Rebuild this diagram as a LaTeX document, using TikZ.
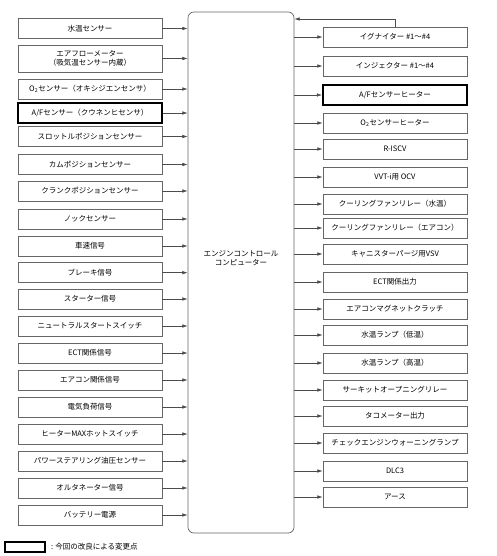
\documentclass[tikz,border=0pt]{standalone}
\usepackage{fontspec}
\setmainfont{Noto Sans CJK JP}
\usepackage{tikz}
\usetikzlibrary{arrows.meta}

\begin{document}
\begin{tikzpicture}[
  x=0.03cm, y=-0.03cm,
  font=\fontsize{6.4}{8}\selectfont,
  inbox/.style={draw=black!60, line width=0.6pt, fill=white, align=center, minimum width=4.32cm, minimum height=0.6cm, inner sep=1pt},
  newbox/.style={inbox, draw=black, line width=1.6pt},
  ecubox/.style={draw=black!60, line width=0.6pt, rounded corners=5pt, minimum width=3.18cm, minimum height=15.63cm},
  arr/.style={-{Latex[length=4.5pt,width=3pt]}, draw=black!70, line width=0.5pt},
]
\useasboundingbox (0,0) rectangle (496,556);

% --- ECU ---
\node[ecubox] (ecu) at (241,272.5) {};
\node[align=center] (ecutxt) at (241,258) {エンジンコントロール\\コンピューター};

% --- Inputs ---
\node[inbox] (in1)  at (90,28.5)  {水温センサー};
\node[inbox, minimum height=0.81cm] (in2) at (90,58.5) {エアフローメーター\\（吸気温センサー内蔵）};
\node[inbox] (in3)  at (90,89)    {O\textsubscript{2}センサー（オキシジエンセンサ）};
\node[newbox] (in4) at (90,113)   {A/Fセンサー（クウネンヒセンサ）};
\node[inbox] (in5)  at (90,136.5) {スロットルポジションセンサー};
\node[inbox] (in6)  at (90,164.5) {カムポジションセンサー};
\node[inbox] (in7)  at (90,191)   {クランクポジションセンサー};
\node[inbox] (in8)  at (90,219)   {ノックセンサー};
\node[inbox] (in9)  at (90,246)   {車速信号};
\node[inbox] (in10) at (90,272.7) {ブレーキ信号};
\node[inbox] (in11) at (90,299)   {スターター信号};
\node[inbox] (in12) at (90,326)   {ニュートラルスタートスイッチ};
\node[inbox] (in13) at (90,353)   {ECT関係信号};
\node[inbox] (in14) at (90,380)   {エアコン関係信号};
\node[inbox] (in15) at (90,407)   {電気負荷信号};
\node[inbox] (in16) at (90,434)   {ヒーターMAXホットスイッチ};
\node[inbox] (in17) at (90,461)   {パワーステアリング油圧センサー};
\node[inbox] (in18) at (90,488)   {オルタネーター信号};
\node[inbox] (in19) at (90,515)   {バッテリー電源};

% --- Outputs ---
\node[inbox] (out1)  at (395,37)  {イグナイター \#1～\#4};
\node[inbox] (out2)  at (395,66)  {インジェクター \#1～\#4};
\node[newbox] (out3) at (395,95)  {A/Fセンサーヒーター};
\node[inbox] (out4)  at (395,123) {O\textsubscript{2}センサーヒーター};
\node[inbox] (out5)  at (395,149) {R-ISCV};
\node[inbox] (out6)  at (395,177) {VVT-i用 OCV};
\node[inbox] (out7)  at (395,204) {クーリングファンリレー（水温）};
\node[inbox] (out8)  at (395,228) {クーリングファンリレー（エアコン）};
\node[inbox] (out9)  at (395,254) {キャニスターパージ用VSV};
\node[inbox] (out10) at (395,282) {ECT関係出力};
\node[inbox] (out11) at (395,309) {エアコンマグネットクラッチ};
\node[inbox] (out12) at (395,335) {水温ランプ（低温）};
\node[inbox] (out13) at (395,363) {水温ランプ（高温）};
\node[inbox] (out14) at (395,390) {サーキットオープニングリレー};
\node[inbox] (out15) at (395,416) {タコメーター出力};
\node[inbox] (out16) at (395,443) {チェックエンジンウォーニングランプ};
\node[inbox] (out17) at (395,471) {DLC3};
\node[inbox] (out18) at (395,497) {アース};

% --- Legend ---
\node[newbox, minimum width=1.2cm, minimum height=0.3cm] (key) at (25,547) {};
\node[anchor=west] (keytxt) at (47,546.5) {: 今回の改良による変更点};

% --- Edges in ---
\draw[arr] (in1.east) -- (in1.east -| ecu.west);
\draw[arr] (in2.east) -- (in2.east -| ecu.west);
\draw[arr] (in3.east) -- (in3.east -| ecu.west);
\draw[arr] (in4.east) -- (in4.east -| ecu.west);
\draw[arr] (in5.east) -- (in5.east -| ecu.west);
\draw[arr] (in6.east) -- (in6.east -| ecu.west);
\draw[arr] (in7.east) -- (in7.east -| ecu.west);
\draw[arr] (in8.east) -- (in8.east -| ecu.west);
\draw[arr] (in9.east) -- (in9.east -| ecu.west);
\draw[arr] (in10.east) -- (in10.east -| ecu.west);
\draw[arr] (in11.east) -- (in11.east -| ecu.west);
\draw[arr] (in12.east) -- (in12.east -| ecu.west);
\draw[arr] (in13.east) -- (in13.east -| ecu.west);
\draw[arr] (in14.east) -- (in14.east -| ecu.west);
\draw[arr] (in15.east) -- (in15.east -| ecu.west);
\draw[arr] (in16.east) -- (in16.east -| ecu.west);
\draw[arr] (in17.east) -- (in17.east -| ecu.west);
\draw[arr] (in18.east) -- (in18.east -| ecu.west);
\draw[arr] (in19.east) -- (in19.east -| ecu.west);

% --- Edges out ---
\draw[arr] (ecu.east |- out1.west) -- (out1.west);
\draw[arr] (ecu.east |- out2.west) -- (out2.west);
\draw[arr] (ecu.east |- out3.west) -- (out3.west);
\draw[arr] (ecu.east |- out4.west) -- (out4.west);
\draw[arr] (ecu.east |- out5.west) -- (out5.west);
\draw[arr] (ecu.east |- out6.west) -- (out6.west);
\draw[arr] (ecu.east |- out7.west) -- (out7.west);
\draw[arr] (ecu.east |- out8.west) -- (out8.west);
\draw[arr] (ecu.east |- out9.west) -- (out9.west);
\draw[arr] (ecu.east |- out10.west) -- (out10.west);
\draw[arr] (ecu.east |- out11.west) -- (out11.west);
\draw[arr] (ecu.east |- out12.west) -- (out12.west);
\draw[arr] (ecu.east |- out13.west) -- (out13.west);
\draw[arr] (ecu.east |- out14.west) -- (out14.west);
\draw[arr] (ecu.east |- out15.west) -- (out15.west);
\draw[arr] (ecu.east |- out16.west) -- (out16.west);
\draw[arr] (ecu.east |- out17.west) -- (out17.west);
\draw[arr] (ecu.east |- out18.west) -- (out18.west);

% --- Feedback ---
\coordinate (fbk) at (395,19);
\draw[arr] (out1.north) -- (fbk) -- (fbk -| ecu.east);
\end{tikzpicture}
\end{document}
